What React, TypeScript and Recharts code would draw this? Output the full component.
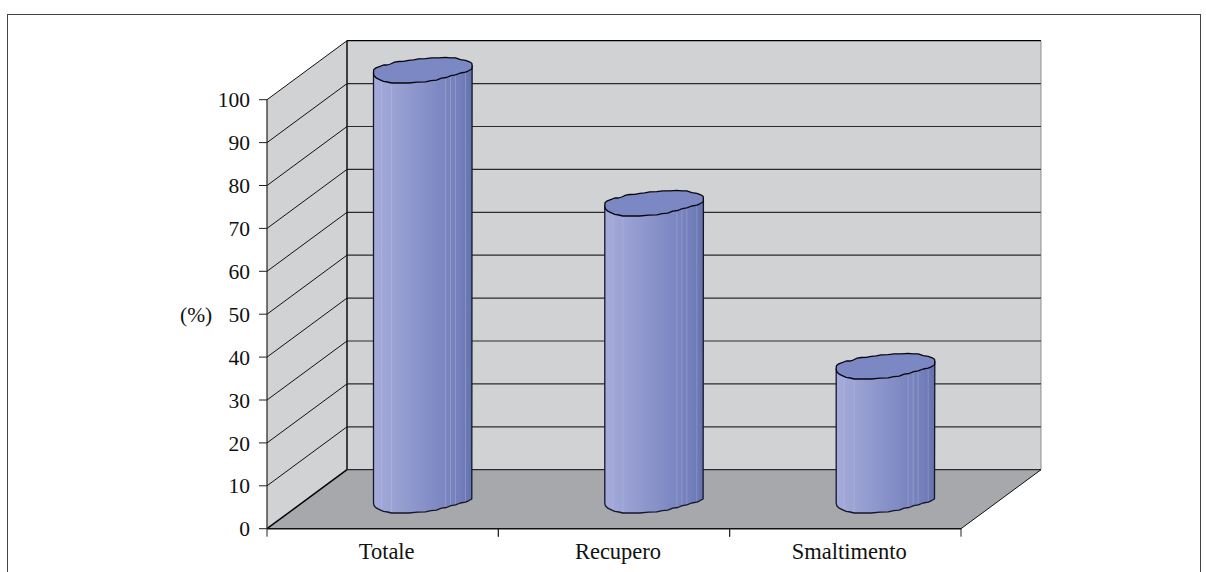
import React from 'react';
import { BarChart, Bar, XAxis, YAxis, ReferenceArea, Label } from 'recharts';

const categories = ['Totale', 'Recupero', 'Smaltimento'];
const values = [100, 69, 31];
const yTicks = [0, 10, 20, 30, 40, 50, 60, 70, 80, 90, 100];
const bands = [90, 80, 70, 60, 50, 40, 30, 20, 10, 0];
const data = categories.map((name, i) => ({ name, value: values[i] }));

const FONT = '"Liberation Serif", "Times New Roman", serif';
const DX = 80;
const DY = -59;

const Band = (v: number) => (p: any) => {
  const { x, y, width, height } = p;
  const bx = x + DX;
  const by = y + DY;
  const bottom = y + height;
  return (
    <g>
      {v === 0 && (
        <polygon
          points={`${x},${bottom} ${bx},${bottom + DY} ${bx + width},${bottom + DY} ${x + width},${bottom}`}
          fill="#a7a8ab"
        />
      )}
      <rect x={bx} y={by} width={width} height={height} fill="#d1d2d4" shapeRendering="crispEdges" />
      <polygon points={`${x},${bottom} ${bx},${bottom + DY} ${bx},${by} ${x},${y}`} fill="#d1d2d4" shapeRendering="crispEdges" />
      <line x1={x} y1={y} x2={bx} y2={by} stroke="#111" strokeWidth={1} />
      <line x1={bx} y1={by} x2={bx + width} y2={by} stroke={v === 90 ? '#000' : '#2a2a2a'} strokeWidth={v === 90 ? 1.3 : 1.2} />
      <line x1={bx} y1={by} x2={bx} y2={bottom + DY} stroke="#000" strokeWidth={1.4} />
      <line x1={bx + width} y1={by} x2={bx + width} y2={bottom + DY} stroke="#777" strokeWidth={0.8} />
      {v === 0 && (
        <g>
          <line x1={bx} y1={bottom + DY} x2={bx + width} y2={bottom + DY} stroke="#2a2a2a" strokeWidth={1.2} />
          <line x1={x} y1={bottom} x2={bx} y2={bottom + DY} stroke="#000" strokeWidth={1.5} />
          <line x1={x + width} y1={bottom} x2={bx + width} y2={bottom + DY} stroke="#111" strokeWidth={1} />
        </g>
      )}
    </g>
  );
};

// outline wobble of the printed cylinder ends, relative to the end's centre
const UPPER: [number, number][] = [
  [-49, 2.7], [-48.8, -0.4], [-46.5, -2.4], [-42.5, -3.8], [-39, -5.2], [-35.5, -5.2], [-32, -6.2], [-28, -8], [-24, -8.7], [-19, -8.9], [-14, -9.9],
  [-9, -10.3], [-4, -11.4], [3, -11.6], [9, -12.4], [16, -12.4], [23, -12.8], [28, -12.4], [33, -12.4], [38, -10.6], [43, -9.9], [47, -8.4], [49.3, -7], [49.6, -4.5],
];
const LOWER: [number, number][] = [
  [49.3, -1.2], [46, 0.6], [43, 2], [38, 2.8], [33, 4.7], [28.5, 5.4], [24, 7.3], [19, 8], [14, 10], [8.5, 10.4], [3, 11.7], [-5, 11.9], [-14, 12.8], [-22, 12.6], [-31, 12.8],
  [-35, 11.8], [-39, 11.2], [-43, 9.4], [-46, 8], [-48.4, 5.6], [-49, 2.7],
];
const STREAKS = [-41, -31, 23, 28, 33, 43];

const edgeAt = (edge: [number, number][], dx: number) => {
  for (let i = 0; i < edge.length - 1; i++) {
    const [a, b] = [edge[i], edge[i + 1]];
    if ((a[0] >= dx && b[0] <= dx) || (a[0] <= dx && b[0] >= dx)) {
      const t = (dx - a[0]) / (b[0] - a[0] || 1);
      return a[1] + t * (b[1] - a[1]);
    }
  }
  return 0;
};

const Cylinder = (p: any) => {
  const { x, y, width, height } = p;
  const cx = x + width / 2 + DX / 2;
  const top = y + DY / 2;
  const base = y + height + DY / 2 + 1;
  const pt = (a: [number, number], c: number) => `${(cx + a[0]).toFixed(1)},${(c + a[1]).toFixed(1)}`;
  const topPath = 'M' + [...UPPER, ...LOWER].map((a) => pt(a, top)).join('L') + 'Z';
  const bodyPath =
    'M' + pt(UPPER[0], top) + 'L' + pt(UPPER[UPPER.length - 1], top) +
    'L' + LOWER.map((a) => pt(a, base)).join('L') + 'Z';
  return (
    <g>
      <path d={bodyPath} fill="url(#cyl)" stroke="#14162a" strokeWidth={1.3} strokeLinejoin="round" />
      {STREAKS.map((s, i) => (
        <line key={i} x1={cx + s} x2={cx + s} y1={top + edgeAt(LOWER, s)} y2={base + edgeAt(LOWER, s) - 1} stroke="#c6cae6" strokeOpacity={0.45} strokeWidth={0.7} />
      ))}
      <path d={topPath} fill="#7b88c4" stroke="#06060c" strokeWidth={1.3} strokeLinejoin="round" />
    </g>
  );
};

const XTick = (p: any) => {
  const { x, y, payload } = p;
  const half = payload && payload.offset ? payload.offset : 115.67;
  const axisY = y - 8;
  return (
    <g>
      <line x1={x - half} x2={x - half} y1={axisY} y2={axisY + 8} stroke="#222" strokeWidth={1} />
      <line x1={x + half} x2={x + half} y1={axisY} y2={axisY + 8} stroke="#222" strokeWidth={1} />
      <text x={x + 4} y={axisY + 30} textAnchor="middle" fontFamily={FONT} fontSize={22.5} fill="#111">
        {payload.value}
      </text>
    </g>
  );
};

export default function App() {
  return (
    <div style={{ position: 'absolute', left: 0, top: 0, width: 1206, height: 572, overflow: 'hidden', background: '#fff' }}>
      <div style={{ position: 'absolute', left: 7, top: 14, width: 1192, height: 570, border: '1px solid #444', boxSizing: 'content-box' }} />
      <div style={{ position: 'absolute', left: 0, top: 0 }}>
        <BarChart width={1206} height={572} data={data} margin={{ top: 99.7, right: 245, bottom: 0, left: 207 }} barCategoryGap={0}>
          <defs>
            <linearGradient id="cyl" x1="0" y1="0" x2="1" y2="0">
              <stop offset="0%" stopColor="#a5abdb" />
              <stop offset="30%" stopColor="#959dd0" />
              <stop offset="65%" stopColor="#7f8ac4" />
              <stop offset="88%" stopColor="#727fba" />
              <stop offset="100%" stopColor="#6473ad" />
            </linearGradient>
          </defs>
          {bands.map((v) => (
            <ReferenceArea key={v} y1={v} y2={v + 10} ifOverflow="visible" shape={Band(v)} />
          ))}
          <XAxis
            dataKey="name"
            height={43.3}
            axisLine={{ stroke: '#111', strokeWidth: 1.5 }}
            tickLine={false}
            tick={<XTick />}
            interval={0}
          />
          <YAxis
            width={60}
            domain={[0, 100]}
            ticks={yTicks}
            interval={0}
            tickSize={8}
            tickMargin={9}
            axisLine={{ stroke: '#222', strokeWidth: 1.2 }}
            tickLine={{ stroke: '#222', strokeWidth: 1 }}
            tick={{ fontFamily: FONT, fontSize: 21.5, fill: '#111' }}
          >
            <Label value="(%)" position="insideLeft" offset={-27} fontFamily={FONT} fontSize={21.5} fill="#111" />
          </YAxis>
          <Bar dataKey="value" barSize={97} shape={Cylinder} isAnimationActive={false} />
        </BarChart>
      </div>
    </div>
  );
}
